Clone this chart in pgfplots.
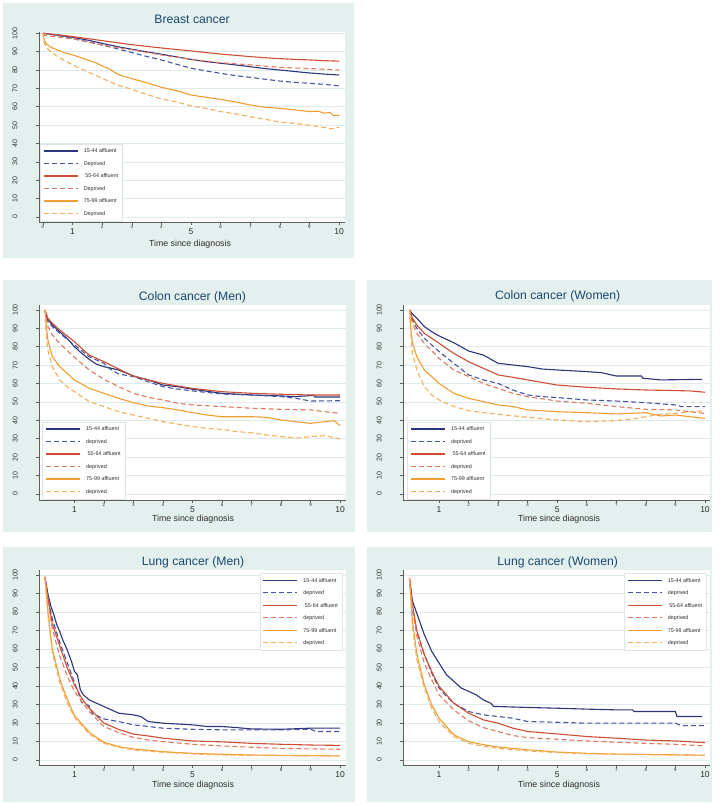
\documentclass[border=0pt]{standalone}
\usepackage{pgfplots}
\pgfplotsset{compat=1.18}
\usepackage{fontspec}
\setmainfont{Liberation Sans}
\definecolor{bgc}{RGB}{228,240,238}
\definecolor{gridc}{RGB}{222,234,236}
\definecolor{axisc}{RGB}{95,95,95}
\definecolor{titlec}{RGB}{26,71,111}
\definecolor{txtc}{RGB}{45,45,45}
\definecolor{legc}{RGB}{222,230,230}
\definecolor{c1}{RGB}{44,52,124}
\definecolor{c2}{RGB}{72,84,160}
\definecolor{c3}{RGB}{205,78,50}
\definecolor{c4}{RGB}{226,120,95}
\definecolor{c5}{RGB}{240,158,50}
\definecolor{c6}{RGB}{244,175,90}
\pgfplotsset{
  s1/.style={c1, line width=1.1pt, solid},
  s2/.style={c2, line width=1.1pt, dash pattern=on 5pt off 3pt},
  s3/.style={c3, line width=1.1pt, solid},
  s4/.style={c4, line width=1.1pt, dash pattern=on 5pt off 3pt},
  s5/.style={c5, line width=1.1pt, solid},
  s6/.style={c6, line width=1.1pt, dash pattern=on 5pt off 3pt},
  panel/.style={
    scale only axis, anchor=south west,
    axis x line*=bottom, axis y line*=left,
    axis line style={draw=axisc, line width=0.6pt, -},
    axis background/.style={fill=white},
    no markers,
    ytick={0,10,...,100},
    ymajorgrids, major grid style={draw=gridc, line width=0.7pt},
    tick align=outside, major tick length=3pt,
    tick style={draw=axisc, line width=0.6pt},
    /pgf/number format/assume math mode=true,
    yticklabel={\rotatebox{90}{\pgfmathprintnumber{\tick}}},
    yticklabel style={font=\fontsize{7}{8}\selectfont, text=txtc, anchor=center, inner sep=0pt, xshift=-21pt},
    xtick={2,3,4,6,7,8,9},
    xticklabel style={font=\fontsize{4.5}{5}\selectfont, text=txtc, anchor=center, inner sep=0pt, yshift=-2pt},
    extra x ticks={1,5,10},
    extra x tick style={grid=none, xticklabel style={font=\fontsize{8.5}{9}\selectfont, yshift=-5pt}},
    legend cell align=left,
    legend image code/.code={\draw[##1] (0pt,0pt) -- (34pt,0pt);},
    legend style={font=\fontsize{5.4}{6}\selectfont, text=txtc, draw=legc, line width=0.5pt, fill=white,
      inner xsep=3pt, inner ysep=3.5pt, row sep=5pt,
      nodes={inner sep=1.5pt, text height=4pt, text depth=0.5pt},
      /tikz/every odd column/.append style={column sep=4pt}},
  },
}
\begin{document}
\begin{tikzpicture}[x=1pt,y=1pt]
\fill[white] (0,0) rectangle (723,804);
\path[use as bounding box] (0,0) rectangle (723,804);
% panel backgrounds
\fill[bgc] (3,546) rectangle (354,801);
\fill[bgc] (3,272) rectangle (355,524);
\fill[bgc] (367,272) rectangle (712,524);
\fill[bgc] (3,2) rectangle (355,257);
\fill[bgc] (367,2) rectangle (712,257);
% titles and x labels
\node[font=\fontsize{12.2}{14}\selectfont, text=titlec] at (192,785) {Breast cancer};
\node[font=\fontsize{12.2}{14}\selectfont, text=titlec] at (192.5,507) {Colon cancer (Men)};
\node[font=\fontsize{12.2}{14}\selectfont, text=titlec] at (557.7,507.3) {Colon cancer (Women)};
\node[font=\fontsize{12.2}{14}\selectfont, text=titlec] at (193,241.7) {Lung cancer (Men)};
\node[font=\fontsize{12.2}{14}\selectfont, text=titlec] at (557.7,241.7) {Lung cancer (Women)};
\node[font=\fontsize{8.8}{10}\selectfont, text=txtc] at (190,560.2) {Time since diagnosis};
\node[font=\fontsize{8.8}{10}\selectfont, text=txtc] at (193,284.5) {Time since diagnosis};
\node[font=\fontsize{8.8}{10}\selectfont, text=txtc] at (559,284.5) {Time since diagnosis};
\node[font=\fontsize{8.8}{10}\selectfont, text=txtc] at (193,18.5) {Time since diagnosis};
\node[font=\fontsize{8.8}{10}\selectfont, text=txtc] at (559,18.5) {Time since diagnosis};

% ---------------- Breast cancer
\begin{axis}[panel, at={(39pt,582pt)}, width=306pt, height=190pt,
  xmin=-0.135, xmax=10.2, ymin=-2.7, ymax=100.7, xtick={0,2,3,4,6,7,8,9},
  legend style={at={(0.003,0.005)}, anchor=south west}]
\addplot[s1] coordinates {(0,100)(0.5,99)(1,97.8)(1.5,96.3)(2,94.5)(2.5,92.8)(3,91.3)(3.5,89.9)(4,88.6)(4.5,87.2)(5,85.8)(5.5,84.6)(6,83.7)(6.5,82.8)(7,81.8)(7.5,80.8)(8,80)(8.5,79.2)(9,78.4)(9.5,77.8)(10,77.3)};
\addlegendentry{15-44 affluent}
\addplot[s2] coordinates {(0,100)(0.5,98.8)(1,97.2)(1.5,95.4)(2,93.6)(2.5,91.6)(3,89.5)(3.5,87.4)(4,85.5)(4.5,83.2)(5,81)(5.5,79.5)(6,78.2)(6.5,77)(7,76)(7.5,75)(8,74)(8.5,73.3)(9,72.8)(9.5,72.2)(10,71.4)};
\addlegendentry{Deprived}
\addplot[s3] coordinates {(0,100)(0.5,99.2)(1,98.2)(1.5,97.1)(2,96)(2.5,94.9)(3,93.8)(3.5,92.9)(4,92)(4.5,91.2)(5,90.4)(5.5,89.5)(6,88.7)(6.5,88)(7,87.3)(7.5,86.7)(8,86.2)(8.5,85.8)(9,85.5)(9.5,85.1)(10,84.8)};
\addlegendentry{\hspace{1.5pt}55-64 affluent}
\addplot[s4] coordinates {(0,100)(0.05,98.8)(0.5,98)(1,97)(1.5,95.3)(2,93.6)(2.5,92.3)(3,91)(3.5,89.6)(4,88.2)(4.5,87)(5,85.8)(5.5,84.8)(6,84)(6.5,83.4)(7,82.8)(7.5,82.1)(8,81.5)(8.5,81.1)(9,80.8)(9.5,80.4)(10,80)};
\addlegendentry{Deprived}
\addplot[s5] coordinates {(0,100)(0.03,97)(0.1,94.5)(0.25,92.5)(0.5,90.8)(0.75,89.3)(1,88.2)(1.25,86.9)(1.5,85.5)(1.75,84.2)(2,82.2)(2.25,80.5)(2.5,77.9)(2.75,76.5)(3,75.3)(3.5,73.1)(4,70.6)(4.5,68.8)(5,66.4)(5.5,65.2)(6,64)(6.5,62.6)(7,61)(7.5,59.7)(8,59.2)(8.5,58.3)(9,57.4)(9.3,57.6)(9.5,56.5)(9.7,56.9)(9.8,55.2)(10,55.4)};
\addlegendentry{75-99 affluent}
\addplot[s6] coordinates {(0,100)(0.03,95.5)(0.1,92.7)(0.25,90)(0.5,87.3)(0.75,85)(1,82.8)(1.5,79.1)(2,75.5)(2.5,71.9)(3,69.5)(3.5,66.8)(4,64.2)(4.5,62.8)(5,60.4)(5.5,59.2)(6,57.4)(6.5,56.1)(7,54.6)(7.5,53.2)(8,51.7)(8.5,51)(9,49.9)(9.5,48.8)(9.7,48)(10,48.8)};
\addlegendentry{Deprived}
\end{axis}

% ---------------- Colon cancer (Men)
\begin{axis}[panel, at={(39.3pt,304pt)}, width=306.4pt, height=195pt,
  xmin=-0.19, xmax=10.19, ymin=-3.26, ymax=102.7,
  legend style={at={(0.01,0.005)}, anchor=south west}]
\addplot[s1] coordinates {(0,100)(0.05,97)(0.1,95)(0.25,91.8)(0.5,88.2)(0.75,84.6)(1,80)(1.25,76.4)(1.5,73.2)(1.75,70.5)(2,69.2)(2.5,67.4)(3,64.1)(3.5,62)(4,59.2)(4.5,58.3)(5,56.9)(6,54.7)(7,53.8)(8,53.3)(8.5,52.9)(9.1,53.6)(9.15,52.7)(10,52.7)};
\addlegendentry{15-44 affluent}
\addplot[s2] coordinates {(0,100)(0.1,93.7)(0.25,91)(0.5,87.3)(1,81)(1.5,74.6)(2,71)(2.2,68)(2.5,65.2)(3,63.8)(3.5,61)(4,58.3)(4.5,57)(5,56)(6,54.3)(7,53.8)(8,52.9)(8.5,52)(9,50.5)(10,50.7)};
\addlegendentry{deprived}
\addplot[s3] coordinates {(0,100)(0.1,95.5)(0.25,92.8)(0.5,89.1)(0.75,86)(1,82.8)(1.25,79)(1.5,75.5)(2,71.9)(2.5,67.9)(3,64.1)(3.5,62)(4,60.1)(4.5,58.7)(5,57.4)(6,55.6)(7,54.7)(8,54.2)(9,53.8)(10,53.8)};
\addlegendentry{\hspace{1.5pt}55-64 affluent}
\addplot[s4] coordinates {(0,100)(0.1,91)(0.25,86.4)(0.5,81.9)(0.75,78)(1,74.3)(1.5,67.4)(2,62.3)(2.5,58.3)(3,54.7)(3.5,52.5)(4,51.1)(4.5,49.3)(5,48.4)(6,47.5)(7,46.6)(8,46)(9,45.7)(9.5,44.7)(10,43.8)};
\addlegendentry{deprived}
\addplot[s5] coordinates {(0,100)(0.05,91)(0.1,83.7)(0.25,74.6)(0.5,69.2)(0.75,65.6)(1,62)(1.5,57.4)(2,54.7)(2.5,52)(3,49.6)(3.5,47.8)(4,46.9)(4.5,45.7)(5,44.2)(5.5,42.9)(6,42)(7,42)(7.5,41.7)(8,40.2)(8.5,39.3)(9,38.4)(9.5,39.3)(9.8,39.9)(10,37.1)};
\addlegendentry{75-99 affluent}
\addplot[s6] coordinates {(0,100)(0.05,85.5)(0.1,78.3)(0.25,69.2)(0.5,62)(0.75,58.3)(1,55.6)(1.5,50.2)(2,47.5)(2.5,44.7)(3,42.9)(3.5,41.1)(4,39.3)(4.5,38)(5,36.6)(5.5,35.7)(6,35.1)(6.5,33.9)(7,33.3)(7.5,32.1)(8,31.2)(8.5,30.3)(9,31.2)(9.5,31.7)(10,29.9)};
\addlegendentry{deprived}
\end{axis}

% ---------------- Colon cancer (Women)
\begin{axis}[panel, at={(403.3pt,304pt)}, width=306.7pt, height=195pt,
  xmin=-0.21, xmax=10.17, ymin=-3.26, ymax=102.7,
  legend style={at={(0.013,0.005)}, anchor=south west}]
\addplot[s1] coordinates {(0,100)(0.1,97.8)(0.25,95.5)(0.5,91)(0.75,88.2)(1,85.9)(1.5,82.2)(2,77.7)(2.5,75.5)(2.8,72.8)(3,71)(3.5,70.1)(4,69.2)(4.5,67.9)(5,67.4)(6,66.5)(6.5,65.9)(7,64.1)(7.85,64.1)(7.9,62.9)(8.5,62)(9.9,62.3)};
\addlegendentry{15-44 affluent}
\addplot[s2] coordinates {(0,100)(0.1,94.6)(0.25,90)(0.5,84.6)(1,77.4)(1.5,71)(2,64.7)(2.5,62)(3,60.1)(3.5,56.5)(4,53.8)(4.5,52.9)(5,52.4)(6,51.1)(7,50.5)(8,49.6)(9,48.4)(9.2,47.5)(10,47.5)};
\addlegendentry{deprived}
\addplot[s3] coordinates {(0,100)(0.1,95.5)(0.25,91.8)(0.5,87.3)(1,81.9)(1.5,76.4)(2,71.9)(2.5,68.3)(3,64.7)(3.5,63.4)(4,62)(5,59.2)(6,58)(7,57.1)(8,56.5)(9,56.2)(9.5,56)(10,55.3)};
\addlegendentry{\hspace{1.5pt}55-64 affluent}
\addplot[s4] coordinates {(0,100)(0.1,92.8)(0.25,87.3)(0.5,81.9)(1,73.7)(1.5,67.4)(2,63.8)(2.5,60.1)(3,57.4)(3.5,54.7)(4,52.9)(5,50.5)(6,49.3)(7,47.5)(8,46)(9,45.7)(9.5,44.7)(10,43.8)};
\addlegendentry{deprived}
\addplot[s5] coordinates {(0,100)(0.05,89)(0.1,81.9)(0.25,74.6)(0.5,67.4)(0.75,63.8)(1,60.1)(1.5,54.7)(2,52)(2.5,50.2)(3,48.4)(3.5,47.5)(4,45.7)(5,44.7)(6,44.2)(7,43.5)(8,44.2)(8.5,42.4)(9,42.9)(9.5,42)(10,41.1)};
\addlegendentry{75-99 affluent}
\addplot[s6] coordinates {(0,100)(0.05,85.5)(0.1,76.4)(0.25,67.4)(0.5,58.3)(0.75,53.8)(1,51.1)(1.5,47.5)(2,45.3)(2.5,44.2)(3,43.3)(4,41.7)(5,40.2)(6,39.3)(7,39.9)(7.5,40.6)(8,42)(8.5,43.3)(9,43.8)(9.5,44.7)(10,45.3)};
\addlegendentry{deprived}
\end{axis}

% ---------------- Lung cancer (Men)
\begin{axis}[panel, at={(39.3pt,39pt)}, width=306.4pt, height=195pt,
  xmin=-0.19, xmax=10.19, ymin=-2.7, ymax=102.7,
  legend style={at={(0.99,0.985)}, anchor=north east}]
\addplot[s1] coordinates {(0,99)(0.1,89.9)(0.2,83.2)(0.3,78.7)(0.4,73.2)(0.5,69.6)(0.6,65.1)(0.75,59.7)(0.9,53.3)(1,47.9)(1.1,46.1)(1.2,38)(1.3,35.3)(1.5,32.5)(1.75,30.7)(2,28.9)(2.5,25.3)(3,24.4)(3.25,23.5)(3.5,20.8)(4,19.9)(5,19)(5.5,18.1)(6,18.1)(6.5,17.5)(7,16.8)(8,16.6)(9,17.2)(10,17.2)};
\addlegendentry{15-44 affluent}
\addplot[s2] coordinates {(0,99)(0.1,88)(0.25,76.3)(0.5,63.7)(0.75,52.8)(1,42)(1.25,31.1)(1.5,29.3)(1.6,25.3)(2,22.2)(2.5,20.8)(3,19)(3.5,18.1)(4,17.2)(5,16.6)(6,16.3)(7,16.3)(8,16.3)(9,16.6)(9.2,15.4)(10,15.4)};
\addlegendentry{deprived}
\addplot[s3] coordinates {(0,99)(0.1,87.7)(0.25,73.6)(0.5,61.8)(0.75,50.1)(1,40.7)(1.25,33.3)(1.5,28)(2,20)(2.5,16.5)(3,14)(3.5,13)(4,11.8)(5,10.3)(6,9.8)(7,9)(8,8.5)(9,8.1)(10,7.9)};
\addlegendentry{\hspace{1.5pt}55-64 affluent}
\addplot[s4] coordinates {(0,99)(0.1,85.4)(0.25,70.9)(0.5,56.4)(0.75,45.6)(1,37.1)(1.5,26.2)(2,18.1)(2.5,14.8)(3,12.2)(3.5,10.8)(4,9.9)(5,8.5)(6,7.6)(7,6.9)(8,6.3)(9,6)(10,5.8)};
\addlegendentry{deprived}
\addplot[s5] coordinates {(0,99)(0.1,80.1)(0.25,60.2)(0.5,43.9)(0.75,33.1)(1,24)(1.5,15)(2,9.6)(2.5,7.2)(3,6)(4,4.5)(5,3.6)(6,3.1)(7,2.7)(8,2.5)(9,2.4)(10,2.2)};
\addlegendentry{75-99 affluent}
\addplot[s6] coordinates {(0,99)(0.1,78.3)(0.25,58.2)(0.5,42)(0.75,31.1)(1,23.1)(1.5,14.1)(2,9)(2.5,6.9)(3,5.4)(4,4.2)(5,3.3)(6,2.7)(7,2.5)(8,2.4)(9,2.2)(10,2.2)};
\addlegendentry{deprived}
\end{axis}

% ---------------- Lung cancer (Women)
\begin{axis}[panel, at={(403.3pt,39pt)}, width=306.7pt, height=195pt,
  xmin=-0.21, xmax=10.17, ymin=-2.7, ymax=102.7,
  legend style={at={(0.99,0.985)}, anchor=north east}]
\addplot[s1] coordinates {(0,98)(0.1,85.9)(0.2,81.4)(0.3,76.9)(0.4,72.3)(0.5,67.8)(0.6,64.2)(0.75,58.8)(1,52.4)(1.25,46.1)(1.5,42.5)(1.75,38.9)(2,37.1)(2.25,35.3)(2.5,32.5)(2.75,30.7)(2.85,28.9)(3,28.9)(4,28.4)(5,28)(6,27.5)(7,27.1)(7.55,27.1)(7.6,26.2)(9,26.2)(9.05,23.5)(9.9,23.5)};
\addlegendentry{15-44 affluent}
\addplot[s2] coordinates {(0,98)(0.1,80.5)(0.25,69.6)(0.5,57)(0.75,47)(1,38.9)(1.25,34.4)(1.5,30.7)(2,26.2)(2.5,24.4)(3,23.5)(3.5,22.6)(4,20.8)(5,20.4)(6,19.9)(9,19.9)(9.2,18.6)(10,18.6)};
\addlegendentry{deprived}
\addplot[s3] coordinates {(0,98)(0.1,84.1)(0.25,69.6)(0.5,57)(0.75,47.9)(1,39.8)(1.5,30.7)(2,25.3)(2.5,21.7)(3,19.9)(3.5,17.2)(4,15.4)(5,14.1)(6,12.7)(7,11.8)(8,10.8)(9,10.3)(10,9.4)};
\addlegendentry{\hspace{1.5pt}55-64 affluent}
\addplot[s4] coordinates {(0,98)(0.1,82.3)(0.25,66.9)(0.5,52.4)(0.75,43.4)(1,35.3)(1.5,27.1)(2,21.2)(2.5,17.5)(3,15.4)(3.5,13.2)(4,12.1)(5,11.2)(6,10.3)(7,9.6)(8,9)(9,8.5)(10,7.6)};
\addlegendentry{deprived}
\addplot[s5] coordinates {(0,98)(0.1,75)(0.25,57)(0.5,40.7)(0.75,29.8)(1,22.6)(1.5,13.6)(2,9.9)(2.5,8.3)(3,7)(4,5.5)(5,4.3)(6,3.6)(7,3.2)(8,3)(9,2.8)(10,2.6)};
\addlegendentry{75-99 affluent}
\addplot[s6] coordinates {(0,98)(0.1,72.3)(0.25,54.2)(0.5,38.9)(0.75,28)(1,20.8)(1.5,12.7)(2,9)(2.5,7.4)(3,6.3)(4,4.9)(5,4)(6,3.4)(7,3.1)(8,2.9)(9,2.7)(10,2.4)};
\addlegendentry{deprived}
\end{axis}
\end{tikzpicture}
\end{document}
